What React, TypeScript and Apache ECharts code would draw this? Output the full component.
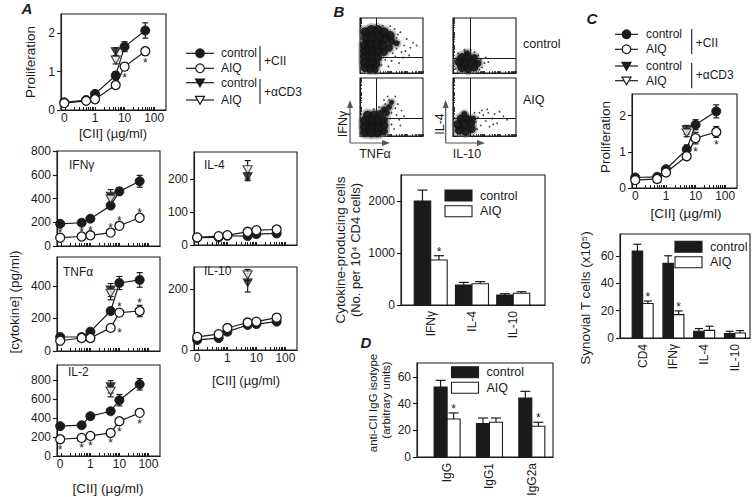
import React, { useEffect, useRef } from 'react';
import * as echarts from 'echarts';

const INK = '#1b1b1b';
const FONT = '"Liberation Sans", Arial, Helvetica, sans-serif';

// ---------------- shared concentration axis ----------------
const CONC = [0, 0.5, 1, 5, 10, 50]; // [CII] µg/ml
const CD3_CONC = 5; // where the αCD3 points sit
const X_TICK_CONC = [0, 1, 10, 100];
const X_TICK_LABELS = ['0', '1', '10', '100'];

// ---------------- Panel A ----------------
const A_PRO_CTRL = [0.2, 0.26, 0.42, 0.9, 1.65, 2.07];
const A_PRO_CTRL_ERR = [0.03, 0.03, 0.04, 0.1, 0.13, 0.2];
const A_PRO_AIQ = [0.18, 0.24, 0.28, 0.65, 1.13, 1.53];
const A_PRO_AIQ_ERR = [0.03, 0.03, 0.03, 0.05, 0.1, 0.1];
const A_PRO_SIG = ['', '', '', '', 'b', 'b'];
const A_PRO_CD3 = [1.52, 1.3];
const A_PRO_CD3_ERR = [0.1, 0.1];
const A_PRO_YTICKS = [0, 1, 2];

const A_IFN_CTRL = [187, 196, 230, 340, 460, 545];
const A_IFN_CTRL_ERR = [15, 15, 15, 25, 30, 50];
const A_IFN_AIQ = [70, 80, 90, 113, 170, 238];
const A_IFN_AIQ_ERR = [10, 10, 10, 10, 15, 18];
const A_IFN_SIG = ['a', 'a', 'a', 'a', 'a', 'a'];
const A_IFN_CD3 = [420, 395];
const A_IFN_CD3_ERR = [55, 40];
const A_IFN_YTICKS = [0, 200, 400, 600, 800];

const A_IL4_CTRL = [22, 23, 28, 27, 33, 35];
const A_IL4_CTRL_ERR = [3, 3, 3, 4, 4, 4];
const A_IL4_AIQ = [23, 27, 30, 40, 45, 47];
const A_IL4_AIQ_ERR = [3, 3, 3, 4, 4, 4];
const A_IL4_SIG = ['', '', '', '', '', ''];
const A_IL4_CD3 = [207, 228];
const A_IL4_CD3_ERR = [12, 28];
const A_IL4_YTICKS = [0, 100, 200];

const A_TNF_CTRL = [86, 86, 119, 246, 418, 437];
const A_TNF_CTRL_ERR = [8, 8, 10, 15, 40, 45];
const A_TNF_AIQ = [63, 80, 80, 142, 236, 246];
const A_TNF_AIQ_ERR = [8, 8, 8, 10, 20, 35];
const A_TNF_SIG = ['', '', '', 'r', 'a', 'a'];
const A_TNF_CD3 = [375, 355];
const A_TNF_CD3_ERR = [40, 40];
const A_TNF_YTICKS = [0, 200, 400];

const A_IL10_CTRL = [33, 39, 60, 82, 85, 93];
const A_IL10_CTRL_ERR = [4, 4, 5, 6, 8, 8];
const A_IL10_AIQ = [43, 52, 72, 90, 93, 106];
const A_IL10_AIQ_ERR = [4, 4, 5, 6, 10, 12];
const A_IL10_SIG = ['', '', '', '', '', ''];
const A_IL10_CD3 = [220, 246];
const A_IL10_CD3_ERR = [30, 18];
const A_IL10_YTICKS = [0, 200];

const A_IL2_CTRL = [313, 323, 418, 470, 586, 752];
const A_IL2_CTRL_ERR = [20, 20, 20, 30, 60, 60];
const A_IL2_AIQ = [176, 190, 211, 242, 365, 453];
const A_IL2_AIQ_ERR = [10, 10, 10, 15, 20, 30];
const A_IL2_SIG = ['b', 'b', 'b', 'b', 'b', 'b'];
const A_IL2_CD3 = [726, 681];
const A_IL2_CD3_ERR = [65, 60];
const A_IL2_YTICKS = [0, 200, 400, 600, 800];

// ---------------- Panel C proliferation ----------------
const C_PRO_CTRL = [0.29, 0.31, 0.52, 1.07, 1.75, 2.12];
const C_PRO_CTRL_ERR = [0.04, 0.04, 0.05, 0.12, 0.14, 0.18];
const C_PRO_AIQ = [0.22, 0.25, 0.43, 0.88, 1.38, 1.55];
const C_PRO_AIQ_ERR = [0.04, 0.04, 0.05, 0.1, 0.16, 0.15];
const C_PRO_SIG = ['', '', '', '', 'b', 'b'];
const C_PRO_CD3 = [1.61, 1.52];
const C_PRO_CD3_ERR = [0.12, 0.1];
const C_PRO_YTICKS = [0, 1, 2];

// ---------------- Bar panels ----------------
const B_CATS = ['IFNγ', 'IL-4', 'IL-10'];
const B_CTRL = [2000, 385, 192];
const B_CTRL_ERR = [210, 50, 25];
const B_AIQ = [865, 410, 225];
const B_AIQ_ERR = [83, 40, 30];
const B_SIG = [1, 0, 0];
const B_YTICKS = [0, 1000, 2000];

const C_CATS = ['CD4', 'IFNγ', 'IL-4', 'IL-10'];
const C_CTRL = [63.5, 54.5, 4.9, 3.2];
const C_CTRL_ERR = [5, 5.6, 2, 1.7];
const C_AIQ = [25.2, 17.1, 5.6, 3.7];
const C_AIQ_ERR = [1.8, 2.7, 3, 1.7];
const C_SIG = [1, 1, 0, 0];
const C_YTICKS = [0, 20, 40, 60];

const D_CATS = ['IgG', 'IgG1', 'IgG2a'];
const D_CTRL = [52.4, 25, 44.2];
const D_CTRL_ERR = [5, 4.2, 5];
const D_AIQ = [28.5, 26, 23];
const D_AIQ_ERR = [4.5, 3.2, 3];
const D_SIG = [1, 0, 1];
const D_YTICKS = [0, 20, 40, 60];

// ---------------- Panel B flow cytometry (log-decade units 0-100) ----------------
// dense regions: [x, y, dot size]; sparse events: [x, y]
const FLOW_CTRL_IFN_BLOBS = [[8, 75, 9], [18, 78, 10], [28, 78, 10], [38, 74, 10], [48, 68, 9], [10, 64, 10], [20, 66, 11], [30, 66, 11], [40, 62, 10], [50, 58, 8], [58, 54, 6], [8, 50, 10], [16, 52, 11], [26, 52, 11], [36, 50, 10], [46, 46, 8], [8, 40, 10], [18, 40, 11], [28, 40, 10], [38, 38, 8], [8, 30, 10], [18, 30, 11], [28, 28, 9], [8, 20, 10], [18, 18, 10], [26, 16, 8], [8, 10, 9], [16, 8, 9], [24, 6, 7]];
const FLOW_CTRL_IFN_DOTS = [[58, 44], [62, 56], [66, 38], [70, 50], [56, 30], [74, 62], [60, 70], [80, 46], [50, 22], [45, 12], [68, 28], [84, 55], [55, 80], [36, 86], [62, 18], [72, 40], [78, 32], [90, 50], [48, 85], [58, 64], [64, 74], [52, 36], [40, 24], [34, 14]];
const FLOW_CTRL_IFN_GATE = [25, 29];
const FLOW_AIQ_IFN_BLOBS = [[8, 6, 9], [18, 6, 10], [28, 6, 10], [38, 8, 8], [8, 16, 10], [18, 16, 11], [28, 16, 10], [38, 18, 9], [8, 26, 10], [18, 26, 11], [28, 26, 10], [38, 28, 8], [12, 36, 9], [22, 36, 9], [32, 38, 8], [42, 40, 7], [46, 50, 6], [50, 58, 5], [38, 46, 6]];
const FLOW_AIQ_IFN_DOTS = [[52, 60], [56, 48], [58, 36], [46, 62], [40, 55], [62, 28], [50, 20], [60, 55], [44, 68], [66, 44], [54, 12], [70, 34], [64, 18], [38, 62], [56, 68], [48, 30], [30, 50], [22, 46], [50, 40]];
const FLOW_AIQ_IFN_GATE = [25, 31];
const FLOW_CTRL_IL4_BLOBS = [[14, 10, 9], [24, 8, 9], [34, 10, 8], [10, 20, 9], [20, 18, 10], [30, 18, 10], [40, 18, 7], [14, 28, 9], [24, 28, 9], [34, 28, 7], [22, 36, 6]];
const FLOW_CTRL_IL4_DOTS = [[44, 24], [46, 10], [40, 32], [8, 36], [50, 18], [34, 38], [4, 8], [52, 28], [18, 42], [28, 42], [56, 20], [42, 6]];
const FLOW_CTRL_IL4_GATE = [27, 27];
const FLOW_AIQ_IL4_BLOBS = [[10, 10, 9], [20, 8, 9], [30, 12, 8], [8, 20, 9], [18, 20, 10], [28, 22, 9], [12, 30, 8], [22, 30, 8], [32, 30, 6], [18, 38, 6]];
const FLOW_AIQ_IL4_DOTS = [[36, 24], [40, 32], [44, 18], [48, 36], [52, 26], [56, 40], [62, 30], [66, 38], [70, 22], [74, 42], [38, 12], [46, 44], [58, 16], [80, 34], [42, 40], [64, 20], [34, 40], [86, 28], [54, 46]];
const FLOW_AIQ_IL4_GATE = [27, 31];

// ---------------- helpers ----------------
const ZERO_POS = -1.04;
const X_MIN = -1.15;
const X_MAX = 2.4;
const cx = (c: number) => (c === 0 ? ZERO_POS : Math.log10(c));
const X_LABEL_POS = X_TICK_CONC.map(cx);
const X_MINOR: number[] = [];
[-1, 0, 1].forEach((d) => {
  for (let k = 1; k <= 9; k++) X_MINOR.push(d + Math.log10(k));
});
X_MINOR.push(2);
const FLOW_TICKS: number[] = [];
[0, 1, 2, 3].forEach((d) => {
  for (let k = 1; k <= 9; k++) FLOW_TICKS.push(25 * (d + Math.log10(k)));
});
FLOW_TICKS.push(100);
const SIG_CODE: Record<string, number> = { a: 1, b: -1, r: 2 };
const LW = 1.2;

const txtStyle = (text: string, size = 12, align = 'center', extra: any = {}) => ({
  text,
  fill: INK,
  fontFamily: FONT,
  fontSize: size,
  align,
  verticalAlign: 'middle',
  textAlign: align,
  textVerticalAlign: 'middle',
  ...extra,
});

const mkGrid = (l: number, t: number, w: number, h: number) => ({
  left: l,
  top: t,
  width: w,
  height: h,
  show: true,
  borderColor: INK,
  borderWidth: 1.1,
  backgroundColor: 'rgba(0,0,0,0)',
  containLabel: false,
  outerBoundsMode: 'none',
});

const AXLINE = { show: true, onZero: false, lineStyle: { color: INK, width: 1.1 } };

const yAx = (gi: number, max: number, ticks: number[]) => ({
  type: 'value',
  gridIndex: gi,
  min: 0,
  max,
  axisLine: AXLINE,
  axisTick: { show: true, inside: false, length: 4, customValues: ticks, lineStyle: { color: INK, width: 1.1 } },
  axisLabel: { show: true, customValues: ticks, formatter: (v: number) => String(v), color: INK, fontSize: 12, fontFamily: FONT, margin: 6 },
  splitLine: { show: false },
});

const logX = (gi: number, showLabels: boolean) => ({
  type: 'value',
  gridIndex: gi,
  min: X_MIN,
  max: X_MAX,
  axisLine: AXLINE,
  axisTick: { show: true, inside: true, length: 3, customValues: X_MINOR, lineStyle: { color: INK } },
  axisLabel: {
    show: showLabels,
    customValues: X_LABEL_POS,
    formatter: (v: number) => {
      const i = X_LABEL_POS.findIndex((u) => Math.abs(u - v) < 1e-6);
      return i >= 0 ? X_TICK_LABELS[i] : '';
    },
    color: INK,
    fontSize: 12,
    fontFamily: FONT,
    margin: 2,
  },
  splitLine: { show: false },
});

const errorRender = (capHalf: number) => (_p: any, api: any) => {
  const x = api.value(0);
  const m = api.value(1);
  const e = api.value(2);
  if (!e) return null;
  const p1 = api.coord([x, m + e]);
  const p2 = api.coord([x, m - e]);
  const st = { stroke: INK, lineWidth: LW };
  return {
    type: 'group',
    children: [
      { type: 'line', shape: { x1: p1[0], y1: p1[1], x2: p2[0], y2: p2[1] }, style: st },
      { type: 'line', shape: { x1: p1[0] - capHalf, y1: p1[1], x2: p1[0] + capHalf, y2: p1[1] }, style: st },
      { type: 'line', shape: { x1: p2[0] - capHalf, y1: p2[1], x2: p2[0] + capHalf, y2: p2[1] }, style: st },
    ],
  };
};

const starRender = (_p: any, api: any) => {
  const x = api.value(0);
  const m = api.value(1);
  const e = api.value(2);
  const pl = api.value(3);
  const p = api.coord([x, m]);
  const pe = api.coord([x, m + e]);
  const errPx = Math.abs(p[1] - pe[1]);
  const d = Math.max(7.5, errPx + 5);
  let sx = p[0];
  let sy = p[1];
  if (pl === 1) sy -= d;
  else if (pl === -1) sy += d;
  else {
    sx += 9;
    sy += 2;
  }
  return { type: 'text', x: sx, y: sy + 3, style: txtStyle('*', 12) };
};

const barRender = (side: number, barW: number, capHalf: number, fill: string) => (_p: any, api: any) => {
  const pos = api.value(0);
  const v = api.value(1);
  const e = api.value(2);
  const sig = api.value(3);
  const top = api.coord([pos, v]);
  const base = api.coord([pos, 0]);
  const x0 = side < 0 ? top[0] - barW : top[0];
  const c = x0 + barW / 2;
  const et = api.coord([pos, v + e]);
  const st = { stroke: INK, lineWidth: LW };
  const children: any[] = [
    { type: 'line', shape: { x1: c, y1: top[1], x2: c, y2: et[1] }, style: st },
    { type: 'line', shape: { x1: c - capHalf, y1: et[1], x2: c + capHalf, y2: et[1] }, style: st },
    { type: 'rect', shape: { x: x0, y: top[1], width: barW, height: base[1] - top[1] }, style: { fill, stroke: INK, lineWidth: 1.1 } },
  ];
  if (sig) children.push({ type: 'text', x: c, y: et[1] - 7 + 3, style: txtStyle('*', 12) });
  return { type: 'group', children };
};

function buildOption() {
  const grid: any[] = [];
  const xAxis: any[] = [];
  const yAxis: any[] = [];
  const series: any[] = [];

  const addLine = (p: any) => {
    const gi = grid.length;
    grid.push(mkGrid(p.box[0], p.box[1], p.box[2], p.box[3]));
    xAxis.push(logX(gi, p.xLabels));
    yAxis.push(yAx(gi, p.yMax, p.yTicks));
    const base = { xAxisIndex: gi, yAxisIndex: gi, animation: false, silent: true };
    const errData = [
      ...CONC.map((c, i) => [cx(c), p.ctrl[i], p.ctrlErr[i]]),
      ...CONC.map((c, i) => [cx(c), p.aiq[i], p.aiqErr[i]]),
      [cx(CD3_CONC), p.cd3[0], p.cd3Err[0]],
      [cx(CD3_CONC), p.cd3[1], p.cd3Err[1]],
    ];
    series.push({ ...base, type: 'custom', z: 1, renderItem: errorRender(3), encode: { x: 0, y: 1 }, data: errData, clip: false });
    series.push({
      ...base,
      type: 'line',
      z: 2,
      clip: false,
      data: CONC.map((c, i) => [cx(c), p.ctrl[i]]),
      symbol: 'circle',
      symbolSize: 9,
      itemStyle: { color: INK, borderColor: INK, borderWidth: 1 },
      lineStyle: { color: INK, width: LW },
    });
    series.push({
      ...base,
      type: 'line',
      z: 3,
      clip: false,
      data: CONC.map((c, i) => [cx(c), p.aiq[i]]),
      symbol: 'circle',
      symbolSize: 9,
      itemStyle: { color: '#ffffff', borderColor: INK, borderWidth: 1.3 },
      lineStyle: { color: INK, width: LW },
    });
    series.push({
      ...base,
      type: 'scatter',
      z: 4,
      data: [[cx(CD3_CONC), p.cd3[0]]],
      symbol: 'triangle',
      symbolRotate: 180,
      symbolSize: [9, 8],
      itemStyle: { color: INK, borderColor: INK, borderWidth: 1 },
    });
    series.push({
      ...base,
      type: 'scatter',
      z: 4,
      data: [[cx(CD3_CONC), p.cd3[1]]],
      symbol: 'triangle',
      symbolRotate: 180,
      symbolSize: [9, 8],
      itemStyle: { color: '#ffffff', borderColor: INK, borderWidth: 1.2 },
    });
    const stars: any[] = [];
    CONC.forEach((c, i) => {
      if (p.sig[i]) stars.push([cx(c), p.aiq[i], p.aiqErr[i], SIG_CODE[p.sig[i]]]);
    });
    series.push({ ...base, type: 'custom', z: 5, renderItem: starRender, encode: { x: 0, y: 1 }, data: stars, clip: false, itemStyle: { color: INK } });
  };

  const addBars = (p: any) => {
    const gi = grid.length;
    grid.push(mkGrid(p.box[0], p.box[1], p.box[2], p.box[3]));
    const pos = p.cats.map((_: any, i: number) => i + 1);
    xAxis.push({
      type: 'value',
      gridIndex: gi,
      min: p.xMin,
      max: p.xMax,
      axisLine: AXLINE,
      axisTick: { show: false },
      axisLabel: {
        customValues: pos,
        formatter: (v: number) => p.cats[Math.round(v) - 1] ?? '',
        rotate: 90,
        color: INK,
        fontSize: 12,
        fontFamily: FONT,
        margin: 6,
      },
      splitLine: { show: false },
    });
    yAxis.push(yAx(gi, p.yMax, p.yTicks));
    const base = { xAxisIndex: gi, yAxisIndex: gi, animation: false, silent: true, type: 'custom', encode: { x: 0, y: 1 }, clip: false };
    series.push({ ...base, z: 2, renderItem: barRender(-1, p.barW, p.cap, INK), data: pos.map((x: number, i: number) => [x, p.ctrl[i], p.ctrlErr[i], 0]) });
    series.push({ ...base, z: 3, renderItem: barRender(1, p.barW, p.cap, '#ffffff'), data: pos.map((x: number, i: number) => [x, p.aiq[i], p.aiqErr[i], p.sig[i]]) });
  };

  const addFlow = (p: any) => {
    const gi = grid.length;
    grid.push(mkGrid(p.box[0], p.box[1], p.box[2], p.box[3]));
    const ax = () => ({
      type: 'value',
      gridIndex: gi,
      min: 0,
      max: 100,
      axisLine: AXLINE,
      axisTick: { show: true, inside: true, length: 2, customValues: FLOW_TICKS, lineStyle: { color: INK, width: 0.8 } },
      axisLabel: { show: false },
      splitLine: { show: false },
    });
    xAxis.push(ax());
    yAxis.push(ax());
    const base = { xAxisIndex: gi, yAxisIndex: gi, animation: false, silent: true, type: 'scatter' };
    // soft edge of the dense population
    series.push({
      ...base,
      z: 1,
      data: p.blobs,
      symbol: 'circle',
      symbolSize: (v: number[]) => v[2] + 4,
      itemStyle: { color: '#707070', opacity: 0.45 },
    });
    series.push({
      ...base,
      z: 2,
      data: p.blobs,
      symbol: 'circle',
      symbolSize: (v: number[]) => v[2],
      itemStyle: { color: '#161616', opacity: 0.92 },
      markLine: {
        silent: true,
        symbol: 'none',
        animation: false,
        label: { show: false },
        lineStyle: { color: INK, width: 1, type: 'solid' },
        data: [{ xAxis: p.gate[0] }, { yAxis: p.gate[1] }],
      },
    });
    series.push({ ...base, z: 3, data: p.dots, symbol: 'circle', symbolSize: 1.8, itemStyle: { color: INK } });
  };

  // Panel A
  addLine({ box: [61, 14, 105, 96], yMax: 2.5, yTicks: A_PRO_YTICKS, xLabels: true, ctrl: A_PRO_CTRL, ctrlErr: A_PRO_CTRL_ERR, aiq: A_PRO_AIQ, aiqErr: A_PRO_AIQ_ERR, sig: A_PRO_SIG, cd3: A_PRO_CD3, cd3Err: A_PRO_CD3_ERR });
  addLine({ box: [57, 151, 103, 95], yMax: 800, yTicks: A_IFN_YTICKS, xLabels: false, ctrl: A_IFN_CTRL, ctrlErr: A_IFN_CTRL_ERR, aiq: A_IFN_AIQ, aiqErr: A_IFN_AIQ_ERR, sig: A_IFN_SIG, cd3: A_IFN_CD3, cd3Err: A_IFN_CD3_ERR });
  addLine({ box: [194, 152, 103, 93], yMax: 282, yTicks: A_IL4_YTICKS, xLabels: false, ctrl: A_IL4_CTRL, ctrlErr: A_IL4_CTRL_ERR, aiq: A_IL4_AIQ, aiqErr: A_IL4_AIQ_ERR, sig: A_IL4_SIG, cd3: A_IL4_CD3, cd3Err: A_IL4_CD3_ERR });
  addLine({ box: [57, 257, 103, 94], yMax: 578, yTicks: A_TNF_YTICKS, xLabels: false, ctrl: A_TNF_CTRL, ctrlErr: A_TNF_CTRL_ERR, aiq: A_TNF_AIQ, aiqErr: A_TNF_AIQ_ERR, sig: A_TNF_SIG, cd3: A_TNF_CD3, cd3Err: A_TNF_CD3_ERR });
  addLine({ box: [194, 267, 103, 83], yMax: 272, yTicks: A_IL10_YTICKS, xLabels: true, ctrl: A_IL10_CTRL, ctrlErr: A_IL10_CTRL_ERR, aiq: A_IL10_AIQ, aiqErr: A_IL10_AIQ_ERR, sig: A_IL10_SIG, cd3: A_IL10_CD3, cd3Err: A_IL10_CD3_ERR });
  addLine({ box: [57, 365, 103, 91], yMax: 955, yTicks: A_IL2_YTICKS, xLabels: true, ctrl: A_IL2_CTRL, ctrlErr: A_IL2_CTRL_ERR, aiq: A_IL2_AIQ, aiqErr: A_IL2_AIQ_ERR, sig: A_IL2_SIG, cd3: A_IL2_CD3, cd3Err: A_IL2_CD3_ERR });
  // Panel C proliferation
  addLine({ box: [632, 94, 105, 94], yMax: 2.6, yTicks: C_PRO_YTICKS, xLabels: true, ctrl: C_PRO_CTRL, ctrlErr: C_PRO_CTRL_ERR, aiq: C_PRO_AIQ, aiqErr: C_PRO_AIQ_ERR, sig: C_PRO_SIG, cd3: C_PRO_CD3, cd3Err: C_PRO_CD3_ERR });
  // Panel B flow
  addFlow({ box: [360, 18, 63, 55], blobs: FLOW_CTRL_IFN_BLOBS, dots: FLOW_CTRL_IFN_DOTS, gate: FLOW_CTRL_IFN_GATE });
  addFlow({ box: [360, 78, 63, 58], blobs: FLOW_AIQ_IFN_BLOBS, dots: FLOW_AIQ_IFN_DOTS, gate: FLOW_AIQ_IFN_GATE });
  addFlow({ box: [453, 18, 63, 55], blobs: FLOW_CTRL_IL4_BLOBS, dots: FLOW_CTRL_IL4_DOTS, gate: FLOW_CTRL_IL4_GATE });
  addFlow({ box: [453, 78, 63, 58], blobs: FLOW_AIQ_IL4_BLOBS, dots: FLOW_AIQ_IL4_DOTS, gate: FLOW_AIQ_IL4_GATE });
  // Bar panels
  addBars({ box: [401, 175, 144, 130], xMin: 0.28, xMax: 3.77, yMax: 2500, yTicks: B_YTICKS, cats: B_CATS, ctrl: B_CTRL, ctrlErr: B_CTRL_ERR, aiq: B_AIQ, aiqErr: B_AIQ_ERR, sig: B_SIG, barW: 16.5, cap: 5 });
  addBars({ box: [620, 234, 130, 104], xMin: 0.263, xMax: 4.49, yMax: 76, yTicks: C_YTICKS, cats: C_CATS, ctrl: C_CTRL, ctrlErr: C_CTRL_ERR, aiq: C_AIQ, aiqErr: C_AIQ_ERR, sig: C_SIG, barW: 10.5, cap: 4 });
  addBars({ box: [417, 363, 136, 94], xMin: 0.289, xMax: 3.5, yMax: 70.4, yTicks: D_YTICKS, cats: D_CATS, ctrl: D_CTRL, ctrlErr: D_CTRL_ERR, aiq: D_AIQ, aiqErr: D_AIQ_ERR, sig: D_SIG, barW: 13, cap: 5 });

  // ---------------- graphic: titles, legends, labels ----------------
  const G: any[] = [];
  const T = (x: number, y: number, text: string, o: any = {}) =>
    G.push({
      type: 'text',
      x,
      y,
      rotation: o.rot || 0,
      silent: true,
      z: 20,
      style: txtStyle(text, o.size || 12, o.align || 'center', {
        fontWeight: o.bold ? 'bold' : 'normal',
        fontStyle: o.italic ? 'italic' : 'normal',
      }),
    });
  const L = (x1: number, y1: number, x2: number, y2: number, color = INK, w = 1) =>
    G.push({ type: 'line', silent: true, z: 20, shape: { x1, y1, x2, y2 }, style: { stroke: color, lineWidth: w } });
  const CIRC = (x: number, y: number, filled: boolean) =>
    G.push({ type: 'circle', silent: true, z: 21, shape: { cx: x, cy: y, r: 4.3 }, style: { fill: filled ? INK : '#fff', stroke: INK, lineWidth: 1.2 } });
  const TRI = (x: number, y: number, filled: boolean) =>
    G.push({
      type: 'polygon',
      silent: true,
      z: 21,
      shape: { points: [[x - 4.5, y - 3.6], [x + 4.5, y - 3.6], [x, y + 4.2]] },
      style: { fill: filled ? INK : '#fff', stroke: INK, lineWidth: 1.2 },
    });
  const RECT = (x: number, y: number, w: number, h: number, fill: string) =>
    G.push({ type: 'rect', silent: true, z: 20, shape: { x, y, width: w, height: h }, style: { fill, stroke: INK, lineWidth: 1.1 } });
  const ROT = Math.PI / 2;
  const PL = { size: 15, bold: true, italic: true };

  // panel letters
  T(27, 8, 'A', PL);
  T(339, 11, 'B', PL);
  T(592, 18, 'C', PL);
  T(366, 342, 'D', PL);

  // line legends (A and C)
  const lineLegend = (x1: number, x2: number, tx: number, rows: number[], bx: number, b1: number[], b2: number[], g1: number, g2: number) => {
    const mx = (x1 + x2) / 2;
    const kinds = [
      ['c', true, 'control'],
      ['c', false, 'AIQ'],
      ['t', true, 'control'],
      ['t', false, 'AIQ'],
    ];
    kinds.forEach((k, i) => {
      const y = rows[i];
      L(x1, y, x2, y, INK, LW);
      if (k[0] === 'c') CIRC(mx, y, k[1] as boolean);
      else TRI(mx, y, k[1] as boolean);
      T(tx, y, k[2] as string, { align: 'left', size: 12 });
    });
    L(bx, b1[0], bx, b1[1], INK, 1.1);
    L(bx, b2[0], bx, b2[1], INK, 1.1);
    T(bx + 4, g1, '+CII', { align: 'left', size: 12 });
    T(bx + 4, g2, '+αCD3', { align: 'left', size: 12 });
  };
  lineLegend(186, 214, 221, [53.3, 68.3, 82.7, 100], 260, [46, 71], [79, 104], 61, 92);
  lineLegend(615, 638, 646, [34.3, 49.3, 66, 80.7], 691.7, [29, 54], [62.7, 88.3], 42.7, 75);

  // bar legends
  const barLegend = (x: number, y1: number, y2: number) => {
    RECT(x, y1 - 5.5, 27, 11, INK);
    RECT(x, y2 - 5.5, 27, 11, '#fff');
    T(x + 35, y1, 'control', { align: 'left', size: 12.5 });
    T(x + 35, y2, 'AIQ', { align: 'left', size: 12.5 });
  };
  barLegend(445, 195.5, 211.2);
  barLegend(675, 246.7, 262.3);
  barLegend(451.5, 372.3, 387.7);

  // panel A labels
  T(30, 62, 'Proliferation', { rot: ROT, size: 13.5 });
  T(113, 133, '[CII] (µg/ml)', { size: 13 });
  T(14, 302, '[cytokine] (pg/ml)', { rot: ROT, size: 13.5 });
  T(246, 380, '[CII] (µg/ml)', { size: 13 });
  T(108, 488, '[CII] (µg/ml)', { size: 13.5 });
  T(69, 165, 'IFNγ', { align: 'left' });
  T(204, 165, 'IL-4', { align: 'left' });
  T(63, 272, 'TNFα', { align: 'left' });
  T(204, 271, 'IL-10', { align: 'left' });
  T(68, 372, 'IL-2', { align: 'left' });

  // panel C labels
  T(605, 137, 'Proliferation', { rot: ROT, size: 13.5 });
  T(686, 213, '[CII] (µg/ml)', { size: 13.5 });
  T(585, 298, 'Synovial T cells (x10⁵)', { rot: ROT, size: 13.5 });

  // panel B labels
  T(340, 250, 'Cytokine-producing cells', { rot: ROT, size: 13.5 });
  T(355, 250, '(No. per 10⁴ CD4 cells)', { rot: ROT, size: 13 });
  T(523, 43.5, 'control', { align: 'left', size: 12.5 });
  T(523, 100, 'AIQ', { align: 'left', size: 12.5 });
  const GREY = '#555';
  L(350, 143, 350, 104, GREY, 1.2);
  L(350, 143, 386, 143, GREY, 1.2);
  L(445.7, 143, 445.7, 104, GREY, 1.2);
  L(445.7, 143, 481, 143, GREY, 1.2);
  const head = (pts: number[][]) => G.push({ type: 'polygon', silent: true, z: 20, shape: { points: pts }, style: { fill: GREY } });
  head([[347, 108], [353, 108], [350, 100]]);
  head([[382, 140], [382, 146], [390, 143]]);
  head([[442.7, 108], [448.7, 108], [445.7, 100]]);
  head([[477, 140], [477, 146], [485, 143]]);
  T(343, 124, 'IFNγ', { rot: ROT, size: 12.5 });
  T(375, 154, 'TNFα', { size: 12.5 });
  T(440, 124, 'IL-4', { rot: ROT, size: 12.5 });
  T(467, 154, 'IL-10', { size: 12.5 });

  // panel D labels
  T(373, 403, 'anti-CII IgG isotype', { rot: ROT, size: 11.5 });
  T(386, 400, '(arbitrary units)', { rot: ROT, size: 11.5 });

  return {
    animation: false,
    backgroundColor: '#ffffff',
    textStyle: { fontFamily: FONT, color: INK },
    grid,
    xAxis,
    yAxis,
    series,
    graphic: { elements: G },
  };
}

export default function App() {
  const ref = useRef<HTMLDivElement>(null);
  useEffect(() => {
    if (!ref.current) return;
    const chart = echarts.init(ref.current, null, { renderer: 'svg' });
    chart.setOption(buildOption() as any);
    return () => chart.dispose();
  }, []);
  return <div ref={ref} style={{ position: 'fixed', left: 0, top: 0, width: 756, height: 497, background: '#fff' }} />;
}
